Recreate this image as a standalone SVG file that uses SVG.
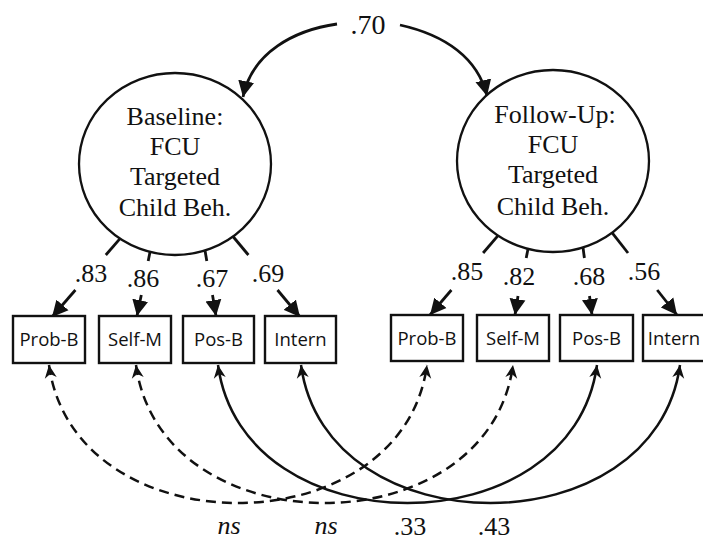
<svg xmlns="http://www.w3.org/2000/svg" width="703" height="540" viewBox="0 0 703 540">
<style>
.bg{fill:#fff}
.lat{fill:#fff;stroke:#111;stroke-width:2.3}
.box{fill:#fff;stroke:#111;stroke-width:2.4}
.lt{font-family:"Liberation Serif","Times New Roman",serif;font-size:26px;fill:#111;text-anchor:middle}
.bt{font-family:"Open Sans","Liberation Sans",Arial,sans-serif;font-size:18.5px;fill:#111;text-anchor:middle}
.num{font-family:"Liberation Serif","Times New Roman",serif;font-size:26px;fill:#111;text-anchor:middle}
.ns{font-style:italic}
.ld{fill:none;stroke:#111;stroke-width:2.8}
.cv{fill:none;stroke:#111;stroke-width:2.5}
.dash{stroke-dasharray:10 6}
</style>
<defs>
<marker id="ah" markerUnits="userSpaceOnUse" markerWidth="17" markerHeight="17" refX="16" refY="8.5" orient="auto">
<path d="M0,0.5 L16,8.5 L0,16.5 z" fill="#111"/>
</marker>
<marker id="ahs" markerUnits="userSpaceOnUse" markerWidth="14" markerHeight="13" refX="13" refY="6.5" orient="auto-start-reverse">
<path d="M0,0.5 L13,6.5 L0,12.5 L4,6.5 z" fill="#111"/>
</marker>
</defs>
<rect class="bg" x="0" y="0" width="703" height="540"/>

<g id="connectors">
<path class="ld" d="M337,24 C295,30 252,52 243,97" marker-end="url(#ah)"/>
<path class="ld" d="M400,25 C445,35 478,58 487,96" marker-end="url(#ah)"/>
<line class="ld" x1="120" y1="238.6" x2="105.8" y2="255"/>
<line class="ld" x1="75.4" y1="290" x2="52" y2="317" marker-end="url(#ah)"/>
<line class="ld" x1="150" y1="252" x2="148.2" y2="261"/>
<line class="ld" x1="141.3" y1="295" x2="137" y2="316" marker-end="url(#ah)"/>
<line class="ld" x1="205" y1="250.5" x2="206.8" y2="261"/>
<line class="ld" x1="212.5" y1="295" x2="216" y2="316" marker-end="url(#ah)"/>
<line class="ld" x1="233" y1="236.5" x2="248.4" y2="255"/>
<line class="ld" x1="277.5" y1="290" x2="300" y2="317" marker-end="url(#ah)"/>
<line class="ld" x1="498" y1="235.6" x2="483.1" y2="253"/>
<line class="ld" x1="451.4" y1="290" x2="430" y2="315" marker-end="url(#ah)"/>
<line class="ld" x1="528" y1="249" x2="526.2" y2="258"/>
<line class="ld" x1="518" y1="296" x2="515" y2="315" marker-end="url(#ah)"/>
<line class="ld" x1="583" y1="247.4" x2="584.4" y2="258"/>
<line class="ld" x1="589.5" y1="296" x2="592" y2="315" marker-end="url(#ah)"/>
<line class="ld" x1="612" y1="232.7" x2="628" y2="253"/>
<line class="ld" x1="657.2" y1="290" x2="677" y2="315" marker-end="url(#ah)"/>
<path class="cv dash" d="M49,365 C74,549 402,549 427,365" marker-start="url(#ahs)" marker-end="url(#ahs)"/>
<path class="cv dash" d="M136,365 C161,549 488,549 513,365" marker-start="url(#ahs)" marker-end="url(#ahs)"/>
<path class="cv" d="M218,365 C243,549 572,549 597,365" marker-start="url(#ahs)" marker-end="url(#ahs)"/>
<path class="cv" d="M301,365 C326,549 655,549 680,365" marker-start="url(#ahs)" marker-end="url(#ahs)"/>
</g>

<g id="label-cov"><text class="num" x="368" y="34" style="font-size:28px">.70</text></g>

<g id="baseline">
<ellipse class="lat" cx="175" cy="164" rx="96" ry="91"/>
<text class="lt" x="175" y="125">Baseline:</text>
<text class="lt" x="175" y="155">FCU</text>
<text class="lt" x="175" y="185">Targeted</text>
<text class="lt" x="175" y="216">Child Beh.</text>
</g>
<g id="followup">
<ellipse class="lat" cx="553" cy="161" rx="96" ry="91"/>
<text class="lt" x="555" y="123">Follow-Up:</text>
<text class="lt" x="553" y="153">FCU</text>
<text class="lt" x="553" y="183">Targeted</text>
<text class="lt" x="553" y="215">Child Beh.</text>
</g>

<g id="loading-labels">
<text class="num" x="91" y="282">.83</text>
<text class="num" x="143" y="287">.86</text>
<text class="num" x="212" y="287">.67</text>
<text class="num" x="268" y="282">.69</text>
<text class="num" x="467" y="280">.85</text>
<text class="num" x="519" y="285">.82</text>
<text class="num" x="589" y="285">.68</text>
<text class="num" x="644" y="280">.56</text>
</g>

<g id="b-probb"><rect class="box" x="13" y="316" width="72" height="47"/><text class="bt" x="49" y="346">Prob-B</text></g>
<g id="b-selfm"><rect class="box" x="99" y="316" width="72" height="47"/><text class="bt" x="135" y="346">Self-M</text></g>
<g id="b-posb"><rect class="box" x="183" y="316" width="71" height="47"/><text class="bt" x="218.5" y="346">Pos-B</text></g>
<g id="b-intern"><rect class="box" x="265" y="316" width="71" height="47"/><text class="bt" x="300.5" y="346">Intern</text></g>
<g id="f-probb"><rect class="box" x="391" y="315" width="72" height="46"/><text class="bt" x="427" y="345">Prob-B</text></g>
<g id="f-selfm"><rect class="box" x="477" y="315" width="72" height="46"/><text class="bt" x="513" y="345">Self-M</text></g>
<g id="f-posb"><rect class="box" x="560" y="315" width="73" height="46"/><text class="bt" x="596.5" y="345">Pos-B</text></g>
<g id="f-intern"><rect class="box" x="643" y="315" width="72" height="46"/><text class="bt" x="674" y="345">Intern</text></g>

<g id="corr-labels">
<text class="num ns" x="229" y="534">ns</text>
<text class="num ns" x="326" y="534">ns</text>
<text class="num" x="410" y="535">.33</text>
<text class="num" x="494" y="535">.43</text>
</g>
</svg>
